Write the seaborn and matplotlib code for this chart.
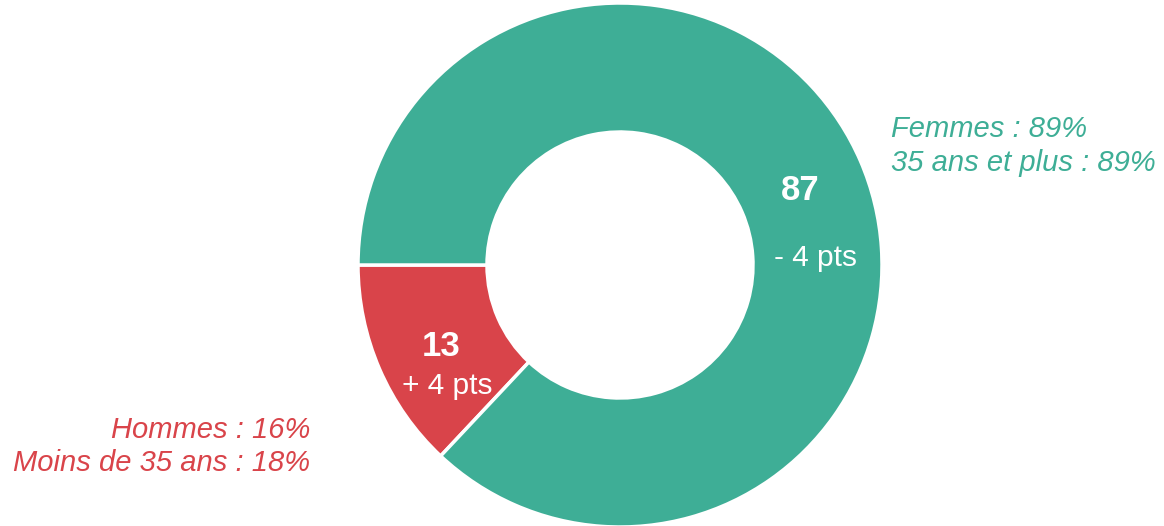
import matplotlib
matplotlib.use("Agg")
import matplotlib.pyplot as plt
import seaborn as sns

# share of the two groups (percent) and evolution
categories = ["Moins de 35 ans / Hommes", "35 ans et plus / Femmes"]
values = [13, 87]
evolutions = ["+ 4 pts", "- 4 pts"]
colors = ["#D9444A", "#3EAE96"]
side_labels = [["Hommes : 16%", "Moins de 35 ans : 18%"],
               ["Femmes : 89%", "35 ans et plus : 89%"]]

sns.set_theme(style="white")
plt.rcParams["font.family"] = ["Liberation Sans", "DejaVu Sans"]

fig = plt.figure(figsize=(11.64, 5.26), dpi=100)
ax = fig.add_axes([0, 0, 1, 1])

R = 262.0
cx, cy = 620.0, 265.0
wedges, _ = ax.pie(values, colors=colors, startangle=180, counterclock=True,
                   radius=1.0, wedgeprops=dict(width=129 / R, edgecolor="white", linewidth=2.5))

ax.set_xlim(-cx / R, (1164 - cx) / R)
ax.set_ylim(-(526 - cy) / R, cy / R)
ax.set_aspect("equal")
ax.axis("off")


def px(x, y):
    return (x - cx) / R, (cy - y) / R


# values inside the ring
ax.text(*px(441, 347), str(values[0]), color="white", fontsize=25, fontweight="bold",
        ha="center", va="center")
ax.text(*px(447, 386), evolutions[0], color="white", fontsize=21.5, ha="center", va="center")
ax.text(*px(800, 191), str(values[1]), color="white", fontsize=25, fontweight="bold",
        ha="center", va="center")
ax.text(*px(815, 258), evolutions[1], color="white", fontsize=21.5, ha="center", va="center")

# side labels
for i, line in enumerate(side_labels[0]):
    ax.text(*px(310, 430 + 33 * i), line, color=colors[0], fontsize=21, style="italic",
            ha="right", va="center")
for i, line in enumerate(side_labels[1]):
    ax.text(*px(891, 129 + 34 * i), line, color=colors[1], fontsize=21, style="italic",
            ha="left", va="center")

fig.savefig("out.png", dpi=100)
